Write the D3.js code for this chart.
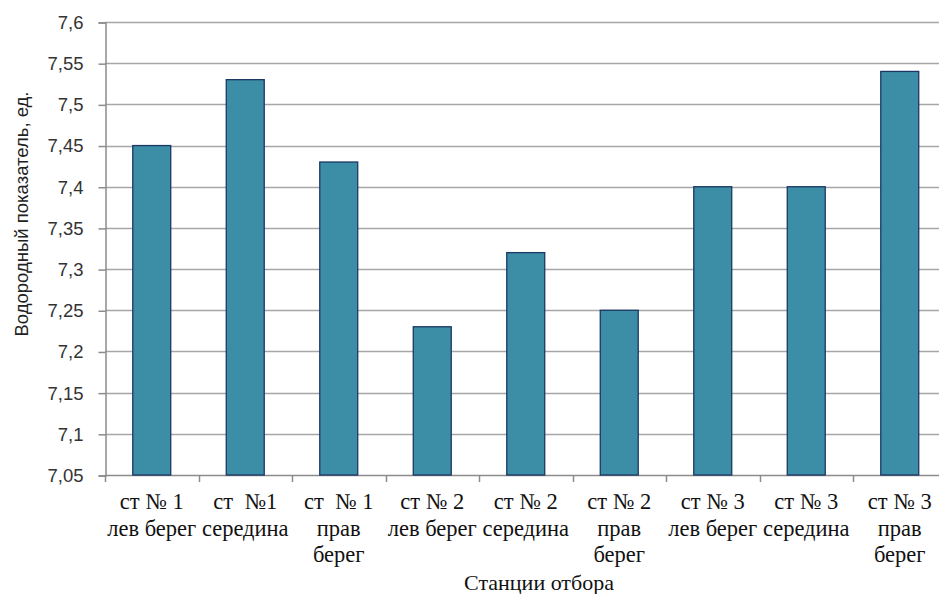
<!DOCTYPE html>
<html>
<head>
<meta charset="utf-8">
<script src="https://cdn.jsdelivr.net/npm/d3@7/dist/d3.min.js"></script>
<style>
  html, body { margin: 0; padding: 0; background: #fff; overflow: hidden; }
  svg { display: block; }
</style>
</head>
<body>
<svg id="chart" width="939" height="594"></svg>
<script>
// Sampling stations (each label split into lines)
const categories = [
  ["ст № 1", "лев берег"],
  ["ст  №1", "середина"],
  ["ст  № 1", "прав", "берег"],
  ["ст № 2", "лев берег"],
  ["ст № 2", "середина"],
  ["ст № 2", "прав", "берег"],
  ["ст № 3", "лев берег"],
  ["ст № 3", "середина"],
  ["ст № 3", "прав", "берег"]
];
// pH values
const values = [7.45, 7.53, 7.43, 7.23, 7.32, 7.25, 7.40, 7.40, 7.54];
const yTicks = [7.05, 7.1, 7.15, 7.2, 7.25, 7.3, 7.35, 7.4, 7.45, 7.5, 7.55, 7.6];
const yTitle = "Водородный показатель, ед.";
const xTitle = "Станции отбора";

const svg = d3.select("#chart");
const W = 939, H = 594;
// plot area runs slightly past the right edge of the canvas
const x0 = 105, x1 = 946.5;
const yTop = 22, yBot = 475;

const x = d3.scaleBand().domain(d3.range(categories.length)).range([x0, x1]).paddingInner(0.594).paddingOuter(0.297);
const xBand = d3.scaleBand().domain(d3.range(categories.length)).range([x0, x1]);
const y = d3.scaleLinear().domain([7.05, 7.6]).range([yBot, yTop]);

const sans = "'Liberation Sans', Arial, sans-serif";
const serif = "'Liberation Serif', 'Times New Roman', serif";

// horizontal gridlines
svg.append("g").selectAll("line").data(yTicks.slice(1)).join("line")
  .attr("x1", x0).attr("x2", x1)
  .attr("y1", d => Math.round(y(d)) + 0.5).attr("y2", d => Math.round(y(d)) + 0.5)
  .attr("stroke", "#a6a6a6").attr("stroke-width", 1.5);

// y axis
const yAxis = d3.axisLeft(y).tickValues(yTicks).tickSize(7).tickPadding(15)
  .tickFormat(d => d3.format("~g")(d).replace(".", ","));
const gy = svg.append("g").attr("transform", `translate(${x0 + 0.5},0.5)`).call(yAxis);
gy.select(".domain").attr("stroke", "#8c8c8c").attr("stroke-width", 1.5);
gy.selectAll(".tick line").attr("stroke", "#8c8c8c").attr("stroke-width", 1.5);
gy.selectAll(".tick text").attr("font-family", sans).attr("font-size", 18.5).attr("fill", "#333");

// x axis baseline and category ticks
svg.append("line").attr("x1", x0).attr("x2", x1)
  .attr("y1", yBot + 0.5).attr("y2", yBot + 0.5)
  .attr("stroke", "#8c8c8c").attr("stroke-width", 1.5);
const bounds = d3.range(categories.length + 1).map(i => i < categories.length ? xBand(i) : x1);
svg.append("g").selectAll("line").data(bounds).join("line")
  .attr("x1", d => Math.round(d) + 0.5).attr("x2", d => Math.round(d) + 0.5)
  .attr("y1", yBot).attr("y2", yBot + 7)
  .attr("stroke", "#8c8c8c").attr("stroke-width", 1.5);

// bars
svg.append("g").selectAll("rect").data(values).join("rect")
  .attr("x", (d, i) => x(i)).attr("width", x.bandwidth())
  .attr("y", d => y(d)).attr("height", d => yBot - y(d))
  .attr("fill", "#3b8ea5").attr("stroke", "#1c3764").attr("stroke-width", 1.3);

// category labels
const lab = svg.append("g").selectAll("text").data(categories).join("text")
  .attr("font-family", serif).attr("font-size", 22.5).attr("fill", "#111")
  .attr("text-anchor", "middle").style("white-space", "pre");
lab.selectAll("tspan").data((d, i) => d.map(s => ({ s, i }))).join("tspan")
  .attr("x", d => xBand(d.i) + xBand.bandwidth() / 2)
  .attr("y", (d, j) => 509 + j * 26.5)
  .text(d => d.s);

// axis titles
svg.append("text").attr("x", 539).attr("y", 590)
  .attr("text-anchor", "middle").attr("font-family", serif).attr("font-size", 22).attr("fill", "#111")
  .text(xTitle);
svg.append("text").attr("transform", `translate(28,214) rotate(-90)`)
  .attr("text-anchor", "middle").attr("font-family", sans).attr("font-size", 18.5).attr("fill", "#222")
  .text(yTitle);
</script>
</body>
</html>
